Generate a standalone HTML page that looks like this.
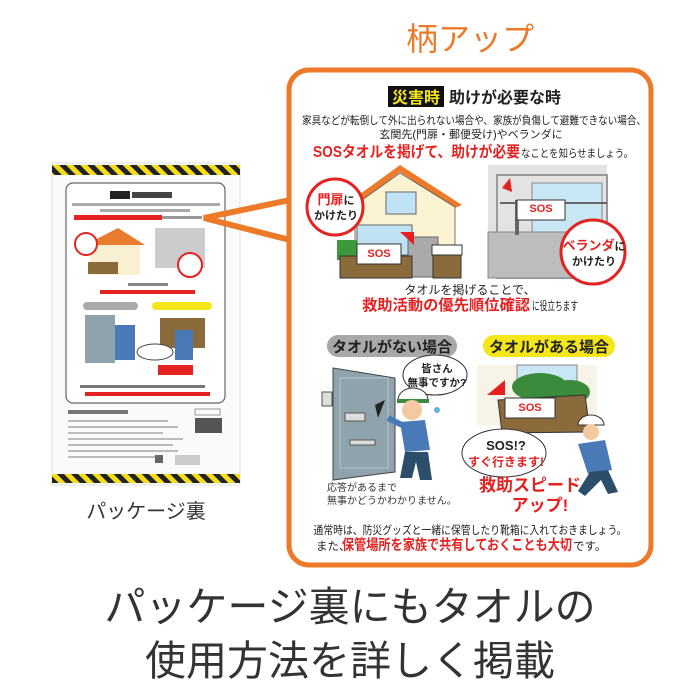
<!DOCTYPE html>
<html><head><meta charset="utf-8"><style>
html,body{margin:0;padding:0;background:#fff;}
svg{display:block;font-family:"Liberation Sans","Noto Sans CJK JP",sans-serif;}
</style></head><body>
<svg width="700" height="700" viewBox="0 0 700 700" xmlns="http://www.w3.org/2000/svg">
<defs>
<pattern id="haz" width="10" height="10" patternUnits="userSpaceOnUse" patternTransform="rotate(-45)">
<rect width="10" height="10" fill="#222"/><rect width="5" height="10" fill="#f5dd1a"/>
</pattern>
</defs>
<text x="470" y="50" font-size="32" fill="#ec7a28" text-anchor="middle">柄アップ</text>

<!-- package -->
<rect x="52" y="163" width="188" height="322" fill="#fafafa" stroke="#e2e2e2"/>
<rect x="52" y="165" width="188" height="10" fill="url(#haz)"/>
<rect x="52" y="474" width="188" height="9" fill="url(#haz)"/>
<rect x="66" y="183" width="159" height="220" rx="7" fill="#fff" stroke="#666" stroke-width="1.2"/>
<rect x="110" y="191" width="20" height="8" fill="#222"/><rect x="132" y="192" width="40" height="6" fill="#444"/>
<rect x="72" y="203" width="148" height="3" fill="#aaa"/><rect x="100" y="209" width="90" height="3" fill="#aaa"/>
<rect x="74" y="215" width="88" height="5" fill="#e52222"/><rect x="162" y="216" width="40" height="3" fill="#999"/>
<polygon points="85,245 118,228 145,245" fill="#ea7b2c"/><rect x="90" y="245" width="50" height="30" fill="#f8f0d0"/>
<rect x="88" y="262" width="30" height="12" fill="#8b6a3c"/><circle cx="86" cy="244" r="11" fill="#fff" stroke="#e52222" stroke-width="2"/>
<rect x="155" y="228" width="50" height="40" fill="#ccc"/><circle cx="190" cy="265" r="12" fill="#fff" stroke="#e52222" stroke-width="2"/>
<rect x="128" y="283" width="40" height="3" fill="#888"/><rect x="100" y="290" width="95" height="4" fill="#e52222"/>
<rect x="83" y="302" width="55" height="8" rx="4" fill="#aaa"/><rect x="152" y="302" width="60" height="8" rx="4" fill="#f5e61a"/>
<rect x="85" y="315" width="30" height="48" fill="#8fa3ad"/><rect x="115" y="325" width="20" height="35" fill="#4a79b8"/>
<rect x="160" y="318" width="45" height="30" fill="#8b6a3c"/><ellipse cx="155" cy="352" rx="18" ry="8" fill="#fff" stroke="#444"/>
<rect x="158" y="365" width="35" height="10" fill="#e52222"/><rect x="175" y="330" width="18" height="30" fill="#4a79b8"/>
<rect x="80" y="385" width="125" height="3" fill="#777"/><rect x="85" y="392" width="125" height="4" fill="#e52222"/>
<rect x="68" y="410" width="60" height="4" fill="#777"/><rect x="195" y="409" width="25" height="6" fill="none" stroke="#999"/>
<rect x="195" y="418" width="27" height="15" fill="#555"/>
<g fill="#bbb"><rect x="68" y="420" width="100" height="2"/><rect x="68" y="426" width="110" height="2"/><rect x="68" y="432" width="95" height="2"/><rect x="68" y="438" width="115" height="2"/><rect x="68" y="444" width="105" height="2"/><rect x="68" y="450" width="110" height="2"/><rect x="68" y="456" width="90" height="2"/></g>
<rect x="155" y="455" width="8" height="8" fill="#666"/><rect x="175" y="455" width="25" height="10" fill="#ccc"/>
<text x="146" y="518" font-size="20" fill="#333" text-anchor="middle">パッケージ裏</text>

<polyline points="290,200 204,218 290,240" fill="none" stroke="#ec7a28" stroke-width="6" stroke-linejoin="miter"/>

<rect x="289" y="70" width="362" height="495" rx="20" fill="#fff" stroke="#ec7a28" stroke-width="5"/>

<rect x="388" y="86" width="56" height="21" fill="#111"/>
<text x="416" y="103" font-size="16" font-weight="bold" fill="#f5e61a" text-anchor="middle">災害時</text>
<text x="449" y="103" font-size="16" font-weight="bold" fill="#222">助けが必要な時</text>
<text x="474" y="124" font-size="11" fill="#222" text-anchor="middle" textLength="344" lengthAdjust="spacingAndGlyphs">家具などが転倒して外に出られない場合や、家族が負傷して避難できない場合、</text>
<text x="471" y="138" font-size="11" fill="#222" text-anchor="middle">玄関先(門扉・郵便受け)やベランダに</text>
<text x="313" y="157" font-size="15.5" font-weight="bold" fill="#e52222" textLength="207" lengthAdjust="spacingAndGlyphs">SOSタオルを掲げて、助けが必要</text>
<text x="521" y="157" font-size="11" fill="#222" textLength="112" lengthAdjust="spacingAndGlyphs">なことを知らせましょう。</text>

<!-- house -->
<polygon points="345,205 400,165 462,205 455,208 400,172 352,208" fill="#ec7a28"/>
<polygon points="355,205 400,173 455,207 455,270 355,270" fill="#fbf3d2" stroke="#555" stroke-width="0.8"/>
<rect x="386" y="192" width="30" height="22" fill="#bfe2f4" stroke="#666"/>
<rect x="357" y="225" width="55" height="30" fill="#bfe2f4" stroke="#666"/>
<rect x="408" y="237" width="30" height="40" fill="#aaa" stroke="#666"/>
<rect x="337" y="240" width="20" height="20" fill="#3c9a3c"/>
<rect x="340" y="256" width="72" height="22" fill="#8b6a3c" stroke="#333"/>
<rect x="432" y="245" width="30" height="10" fill="#fff" stroke="#333"/>
<rect x="433" y="255" width="28" height="23" fill="#8b6a3c" stroke="#333"/>
<rect x="357" y="244" width="44" height="20" fill="#fff" stroke="#333"/>
<text x="379" y="257" font-size="11" font-weight="bold" fill="#e52222" text-anchor="middle">SOS</text>
<polygon points="400,232 414,232 414,245" fill="#e52222"/>
<circle cx="335" cy="207" r="28" fill="#fff" stroke="#e52222" stroke-width="3"/>
<text x="336" y="204" font-size="13" font-weight="bold" fill="#e52222" text-anchor="middle">門扉<tspan fill="#222" font-size="11">に</tspan></text>
<text x="336" y="219" font-size="11" font-weight="bold" fill="#222" text-anchor="middle">かけたり</text>

<!-- veranda -->
<rect x="488" y="165" width="119" height="113" fill="#e3e3e3"/>
<rect x="497" y="175" width="110" height="103" fill="none" stroke="#999" stroke-width="2"/>
<rect x="532" y="183" width="70" height="50" fill="#c9e6f5" stroke="#888"/>
<rect x="488" y="232" width="119" height="46" fill="#bdbdbd" stroke="#888"/>
<line x1="500" y1="203" x2="607" y2="203" stroke="#666" stroke-width="2"/>
<rect x="515" y="200" width="4" height="35" fill="#666"/>
<rect x="517" y="200" width="48" height="20" fill="#fff" stroke="#333"/>
<text x="541" y="212" font-size="11" font-weight="bold" fill="#e52222" text-anchor="middle">SOS</text>
<polygon points="502,188 510,178 512,192" fill="#e52222"/>
<circle cx="593" cy="252" r="32" fill="#fff" stroke="#e52222" stroke-width="3"/>
<text x="594" y="250" font-size="13" font-weight="bold" fill="#e52222" text-anchor="middle">ベランダ<tspan fill="#222" font-size="11">に</tspan></text>
<text x="594" y="265" font-size="11" font-weight="bold" fill="#222" text-anchor="middle">かけたり</text>

<text x="470" y="294" font-size="12" fill="#222" text-anchor="middle">タオルを掲げることで、</text>
<text x="362" y="310" font-size="15" font-weight="bold" fill="#e52222" textLength="168" lengthAdjust="spacingAndGlyphs">救助活動の優先順位確認</text>
<text x="532" y="310" font-size="12" fill="#222" textLength="46" lengthAdjust="spacingAndGlyphs">に役立ちます</text>

<rect x="327" y="335" width="130" height="22" rx="11" fill="#a8a8a8"/>
<text x="392" y="352" font-size="15" font-weight="bold" fill="#222" text-anchor="middle">タオルがない場合</text>
<rect x="483" y="335" width="132" height="22" rx="11" fill="#f5e61a"/>
<text x="549" y="352" font-size="15" font-weight="bold" fill="#222" text-anchor="middle">タオルがある場合</text>

<!-- door scene -->
<polygon points="333,368 395,378 395,472 333,480" fill="#8fa3ad" stroke="#444"/>
<rect x="340" y="378" width="48" height="90" fill="none" stroke="#b5c4cc"/>
<rect x="322" y="392" width="10" height="14" fill="#ddd" stroke="#555"/>
<rect x="345" y="413" width="20" height="8" fill="#ddd" stroke="#555"/>
<rect x="350" y="440" width="25" height="5" fill="#ddd" stroke="#555"/>
<polygon points="375,405 385,400 378,418" fill="#222"/>
<ellipse cx="435" cy="375" rx="32" ry="20" fill="#fff" stroke="#333"/>
<text x="437" y="372" font-size="10.5" font-weight="bold" fill="#222" text-anchor="middle">皆さん</text>
<text x="437" y="386" font-size="10.5" font-weight="bold" fill="#222" text-anchor="middle">無事ですか?</text>
<path d="M398,400 a15,12 0 0 1 30,0 z" fill="#fff" stroke="#333"/>
<rect x="397" y="399" width="32" height="4" fill="#3c8a3c"/>
<circle cx="412" cy="410" r="10" fill="#f2c9a0"/>
<path d="M400,422 L425,420 L430,450 L405,452 Z" fill="#4a79b8"/>
<line x1="402" y1="425" x2="388" y2="418" stroke="#4a79b8" stroke-width="6"/>
<path d="M405,452 L428,452 L432,480 L420,480 L416,462 L412,478 L400,478 Z" fill="#2d4e6b"/>
<circle cx="437" cy="410" r="3" fill="#5bb3e0"/>
<text x="327" y="491" font-size="10" fill="#333">応答があるまで</text>
<text x="327" y="504" font-size="10" fill="#333">無事かどうかわかりません。</text>

<!-- right scene -->
<rect x="477" y="365" width="120" height="60" fill="#f7f3e6"/>
<rect x="517" y="365" width="60" height="25" fill="#c9e6f5" stroke="#888"/>
<ellipse cx="540" cy="387" rx="28" ry="14" fill="#3c8a3c"/>
<ellipse cx="570" cy="392" rx="20" ry="12" fill="#3c8a3c"/>
<polygon points="498,400 585,395 590,432 502,433" fill="#8b6a3c" stroke="#333"/>
<rect x="505" y="398" width="50" height="20" fill="#fff" stroke="#333"/>
<text x="530" y="411" font-size="11" font-weight="bold" fill="#e52222" text-anchor="middle">SOS</text>
<polygon points="487,395 505,380 505,395" fill="#e52222"/>
<path d="M578,425 a13,10 0 0 1 26,0 z" fill="#fff" stroke="#333"/>
<circle cx="591" cy="432" r="8" fill="#f2c9a0"/>
<path d="M578,444 L605,440 L612,470 L588,474 Z" fill="#4a79b8"/>
<path d="M590,472 L608,470 L618,492 L608,494 L601,480 L585,496 L578,491 Z" fill="#2d4e6b"/>
<ellipse cx="504" cy="453" rx="42" ry="24" fill="#fff" stroke="#333"/>
<text x="506" y="450" font-size="13" font-weight="bold" fill="#222" text-anchor="middle">SOS!?</text>
<text x="506" y="466" font-size="12" font-weight="bold" fill="#e52222" text-anchor="middle">すぐ行きます!</text>
<text x="530" y="491" font-size="17" font-weight="bold" fill="#e52222" text-anchor="middle">救助スピード</text>
<text x="540" y="511" font-size="17" font-weight="bold" fill="#e52222" text-anchor="middle">アップ!</text>

<text x="470" y="534" font-size="11.5" fill="#222" text-anchor="middle" textLength="313" lengthAdjust="spacingAndGlyphs">通常時は、防災グッズと一緒に保管したり靴箱に入れておきましょう。</text>
<text x="316" y="550" font-size="11.5" fill="#222">また、</text>
<text x="342" y="550" font-size="14.5" font-weight="bold" fill="#e52222" textLength="230" lengthAdjust="spacingAndGlyphs">保管場所を家族で共有しておくことも大切</text>
<text x="573" y="550" font-size="11.5" fill="#222">です。</text>

<text x="350" y="621" font-size="41" fill="#333" text-anchor="middle">パッケージ裏にもタオルの</text>
<text x="350" y="675" font-size="41" fill="#333" text-anchor="middle">使用方法を詳しく掲載</text>
</svg>
</body></html>
